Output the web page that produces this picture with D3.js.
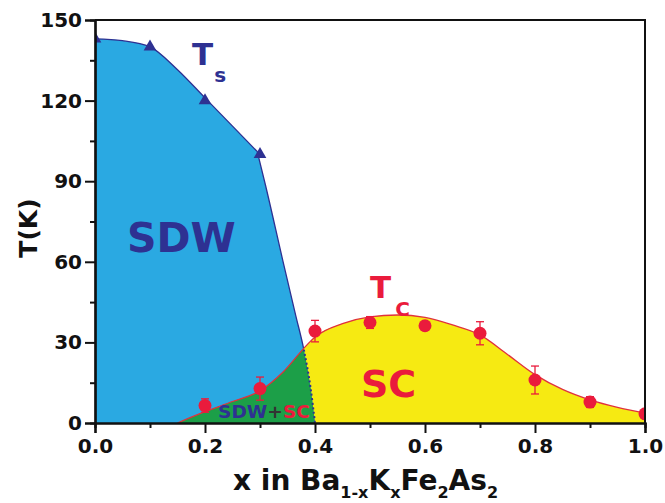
<!DOCTYPE html>
<html><head><meta charset="utf-8">
<script src="https://cdn.jsdelivr.net/npm/d3@7/dist/d3.min.js"></script>
<style>
body{margin:0;background:#fff}
text{font-family:"DejaVu Sans",sans-serif;font-weight:bold}
</style>
</head><body>
<svg id="chart" width="665" height="503"></svg>
<script>
// ---- data ----
const sdwX = [0, 0.05, 0.1, 0.15, 0.2, 0.25, 0.295, 0.31, 0.342, 0.365, 0.38, 0.392, 0.4];
const sdwT = [143, 142.3, 140, 131.5, 121, 110.5, 101, 88.5, 60, 40, 27, 13, 0];
const sdwKink = 0.295;
const tcCurveX = [0.15, 0.2, 0.25, 0.3, 0.342, 0.385, 0.4, 0.45, 0.5, 0.55, 0.6, 0.65, 0.7, 0.75, 0.8, 0.85, 0.9, 0.95, 1.0];
const tcCurveT = [0, 4.2, 8, 12, 19, 29, 32, 37, 39.5, 40.2, 39.3, 36.5, 32.8, 25.5, 18, 12.5, 8.6, 5.8, 3.7];
const tsX = [0, 0.1, 0.2, 0.3];
const tsT = [143, 140, 120, 100];
const tcX = [0.2, 0.3, 0.4, 0.5, 0.6, 0.7, 0.8, 0.9, 1.0];
const tcT = [6.5, 12.8, 34.2, 37.4, 36.2, 33.4, 16, 7.8, 3.4];
const tcErr = [2.5, 4.3, 4, 2.2, 1.5, 4.3, 5.2, 2, 1];
const xTicks = [0, 0.2, 0.4, 0.6, 0.8, 1.0];
const xMinor = [0.1, 0.3, 0.5, 0.7, 0.9];
const yTicks = [0, 30, 60, 90, 120, 150];
const yMinor = [15, 45, 75, 105, 135];

// ---- colours ----
const cBlue = "#2aa9e2", cGreen = "#1c9f48", cYellow = "#f6ea12", cRed = "#ea1b3c", cNavy = "#2e3192";

const svg = d3.select("#chart");
const x = d3.scaleLinear().domain([0, 1]).range([95, 645]);
const y = d3.scaleLinear().domain([0, 150]).range([423, 20]);

const sdwData = sdwX.map((v, i) => [v, sdwT[i]]);
const tcData = tcCurveX.map((v, i) => [v, tcCurveT[i]]);

const curve = d3.curveMonotoneX;
const area = d3.area().x(d => x(d[0])).y0(y(0)).y1(d => y(d[1])).curve(curve);
const line = d3.line().x(d => x(d[0])).y(d => y(d[1])).curve(curve);

// SDW boundary: two smooth pieces meeting at a kink
const upper = sdwData.filter(d => d[0] <= sdwKink);
const lower = sdwData.filter(d => d[0] >= sdwKink);
const sdwLinePath = line(upper) + line(lower).replace(/^M/, "L");
const last = sdwData[sdwData.length - 1];
const sdwAreaPath = `M${x(sdwData[0][0])},${y(0)}L` + sdwLinePath.slice(1) + `L${x(last[0])},${y(0)}Z`;

const defs = svg.append("defs");
defs.append("clipPath").attr("id", "sdwClip").append("path").attr("d", sdwAreaPath);
defs.append("clipPath").attr("id", "tcClip").append("path").attr("d", area(tcData));
const [x0, x1] = x.range(), [y0, y1] = y.range();
defs.append("clipPath").attr("id", "outTc").append("path")
  .attr("clip-rule", "evenodd")
  .attr("d", `M${x0},${y1}H${x1}V${y0}H${x0}Z` + area(tcData));
defs.append("clipPath").attr("id", "plotClip").append("rect")
  .attr("x", x0).attr("y", y1).attr("width", x1 - x0).attr("height", y0 - y1);

// fills
svg.append("path").attr("d", area(tcData)).attr("fill", cYellow);
svg.append("path").attr("d", sdwAreaPath).attr("fill", cBlue);
svg.append("path").attr("d", area(tcData)).attr("fill", cGreen).attr("clip-path", "url(#sdwClip)");

// boundaries
svg.append("path").attr("d", sdwLinePath).attr("fill", "none").attr("stroke", cNavy)
  .attr("stroke-width", 1.3).attr("clip-path", "url(#outTc)");
svg.append("path").attr("d", sdwLinePath).attr("fill", "none").attr("stroke", cNavy)
  .attr("stroke-width", 2).attr("stroke-dasharray", "2,2.5").attr("clip-path", "url(#tcClip)");
svg.append("path").attr("d", line(tcData)).attr("fill", "none").attr("stroke", "#e0323c").attr("stroke-width", 1.3);

// markers
const mk = svg.append("g").attr("clip-path", "url(#plotClip)");
mk.selectAll("path.ts").data(tsX).join("path")
  .attr("transform", (d, i) => `translate(${x(d)},${y(tsT[i])})`)
  .attr("d", d3.symbol(d3.symbolTriangle, 70)).attr("fill", cNavy);
const eb = mk.selectAll("g.tc").data(tcX).join("g")
  .attr("transform", (d, i) => `translate(${x(d)},0)`);
eb.append("line").attr("y1", (d, i) => y(tcT[i] + tcErr[i])).attr("y2", (d, i) => y(tcT[i] - tcErr[i]))
  .attr("stroke", cRed).attr("stroke-width", 1.3);
eb.append("line").attr("x1", -4).attr("x2", 4)
  .attr("y1", (d, i) => y(tcT[i] + tcErr[i])).attr("y2", (d, i) => y(tcT[i] + tcErr[i]))
  .attr("stroke", cRed).attr("stroke-width", 1.3);
eb.append("line").attr("x1", -4).attr("x2", 4)
  .attr("y1", (d, i) => y(tcT[i] - tcErr[i])).attr("y2", (d, i) => y(tcT[i] - tcErr[i]))
  .attr("stroke", cRed).attr("stroke-width", 1.3);
eb.append("circle").attr("cy", (d, i) => y(tcT[i])).attr("r", 6.5).attr("fill", cRed);

// axes
const xAxis = svg.append("g").attr("transform", `translate(0,${y0})`)
  .call(d3.axisBottom(x).tickValues(xTicks).tickFormat(d3.format(".1f")).tickSize(10).tickPadding(6));
const xMin = svg.append("g").attr("transform", `translate(0,${y0})`)
  .call(d3.axisBottom(x).tickValues(xMinor).tickFormat("").tickSize(5));
const yAxis = svg.append("g").attr("transform", `translate(${x0},0)`)
  .call(d3.axisLeft(y).tickValues(yTicks).tickSize(10).tickPadding(3));
const yMin = svg.append("g").attr("transform", `translate(${x0},0)`)
  .call(d3.axisLeft(y).tickValues(yMinor).tickFormat("").tickSize(5));
[xAxis, xMin, yAxis, yMin].forEach(g => {
  g.select(".domain").attr("stroke", "#111").attr("stroke-width", 2.2);
  g.selectAll(".tick line").attr("stroke", "#111").attr("stroke-width", 2);
  g.selectAll("text").attr("font-family", "DejaVu Sans").attr("font-weight", "bold")
    .attr("font-size", 20).attr("fill", "#111");
});
// frame
svg.append("path").attr("d", `M${x0},${y1}H${x1}V${y0}`).attr("fill", "none")
  .attr("stroke", "#111").attr("stroke-width", 2);

// labels
const ts = svg.append("text").attr("x", 192).attr("y", 65).attr("fill", cNavy).attr("font-size", 31);
ts.append("tspan").text("T");
ts.append("tspan").attr("font-size", 20).attr("dx", 1).attr("dy", 17).text("s");

svg.append("text").attr("x", 127).attr("y", 252).attr("fill", cNavy).attr("font-size", 41).text("SDW");
svg.append("text").attr("x", 361).attr("y", 397).attr("fill", cRed).attr("font-size", 38).text("SC");

const tcl = svg.append("text").attr("x", 370).attr("y", 298).attr("fill", cRed).attr("font-size", 31);
tcl.append("tspan").text("T");
tcl.append("tspan").attr("font-size", 20).attr("dx", 4).attr("dy", 18).text("C");

const mix = svg.append("text").attr("x", 218).attr("y", 418).attr("font-size", 17)
  .attr("textLength", 92).attr("lengthAdjust", "spacingAndGlyphs");
mix.append("tspan").attr("fill", cNavy).text("SDW");
mix.append("tspan").attr("fill", "#333").text("+");
mix.append("tspan").attr("fill", cRed).text("SC");

const xt = svg.append("text").attr("x", 233).attr("y", 490).attr("font-size", 28).attr("fill", "#111");
const parts = [["x in Ba", 0], ["1-x", 1], ["K", 0], ["x", 1], ["Fe", 0], ["2", 1], ["As", 0], ["2", 1]];
let shifted = false;
parts.forEach(([t, sub]) => {
  const ts2 = xt.append("tspan").text(t);
  if (sub) { ts2.attr("font-size", 16).attr("dy", shifted ? 0 : 8); shifted = true; }
  else { ts2.attr("dy", shifted ? -8 : 0); shifted = false; }
});

svg.append("text").attr("transform", "translate(37,228) rotate(-90)").attr("text-anchor", "middle")
  .attr("font-size", 25).attr("fill", "#111").text("T(K)");
</script>
</body></html>
